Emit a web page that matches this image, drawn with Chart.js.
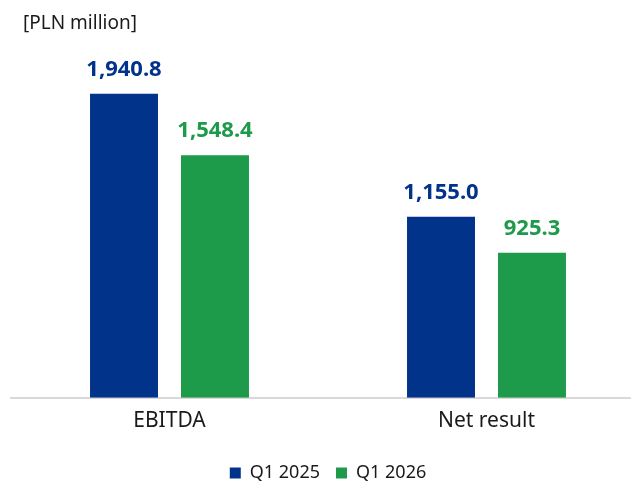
<!DOCTYPE html>
<html>
<head>
<meta charset="utf-8">
<script src="https://cdn.jsdelivr.net/npm/chart.js@4"></script>
<style>
  html, body { margin: 0; padding: 0; background: #fff; overflow: hidden; }
  #wrap { position: relative; width: 631px; height: 484px; overflow: hidden; }
  #box { position: absolute; left: 0; top: 0; width: 660px; height: 492px; }
  #unit { position: absolute; left: 23px; top: 9px; font: 19px "Noto Sans", sans-serif; color: #1a1a1a; }
</style>
</head>
<body>
<div id="wrap">
  <div id="box"><canvas id="grafico"></canvas></div>
  <div id="unit">[PLN million]</div>
</div>
<script>
const categorias = ['EBITDA', 'Net result'];
const series = ['Q1 2025', 'Q1 2026'];
const q1_2025 = [1940.8, 1155.0];
const q1_2026 = [1548.4, 925.3];

const azul = '#02338a';
const verde = '#1d9a4a';

// escreve os valores em cima das barras
const rotulos = {
    id: 'rotulos',
    afterDatasetsDraw(chart) {
        const ctx = chart.ctx;
        ctx.save();
        ctx.font = 'bold 22px "Noto Sans", sans-serif';
        ctx.textAlign = 'center';
        ctx.textBaseline = 'alphabetic';
        chart.data.datasets.forEach((ds, i) => {
            chart.getDatasetMeta(i).data.forEach((bar, j) => {
                ctx.fillStyle = ds.backgroundColor;
                const txt = ds.data[j].toLocaleString('en-US', { minimumFractionDigits: 1, maximumFractionDigits: 1 });
                ctx.fillText(txt, bar.x, bar.y - 18);
            });
        });
        ctx.restore();
    }
};

const ctx = document.getElementById('grafico');

const grafico = new Chart(ctx, {
    type: 'bar',
    data: {
        labels: categorias,
        datasets: [{
            label: series[0],
            data: q1_2025,
            backgroundColor: azul,
            categoryPercentage: 0.574,
            barPercentage: 0.747
        }, {
            label: series[1],
            data: q1_2026,
            backgroundColor: verde,
            categoryPercentage: 0.574,
            barPercentage: 0.747
        }]
    },
    options: {
        responsive: true,
        maintainAspectRatio: false,
        animation: false,
        layout: {
            padding: { left: 11, right: 15, top: 6, bottom: 0 }
        },
        scales: {
            y: {
                display: false,
                min: 0,
                max: 2500
            },
            x: {
                grid: { display: false, drawTicks: false },
                border: { display: true, color: '#d9d9d9', width: 2 },
                ticks: {
                    color: '#1a1a1a',
                    font: { family: 'Noto Sans', size: 21 },
                    padding: 11
                },
                afterFit(escala) {
                    escala.height += 3;
                }
            }
        },
        plugins: {
            legend: {
                position: 'bottom',
                labels: {
                    color: '#1a1a1a',
                    font: { family: 'Noto Sans', size: 18 },
                    boxWidth: 11,
                    boxHeight: 11,
                    padding: 16
                }
            },
            tooltip: { enabled: false }
        }
    },
    plugins: [rotulos]
});
</script>
</body>
</html>
